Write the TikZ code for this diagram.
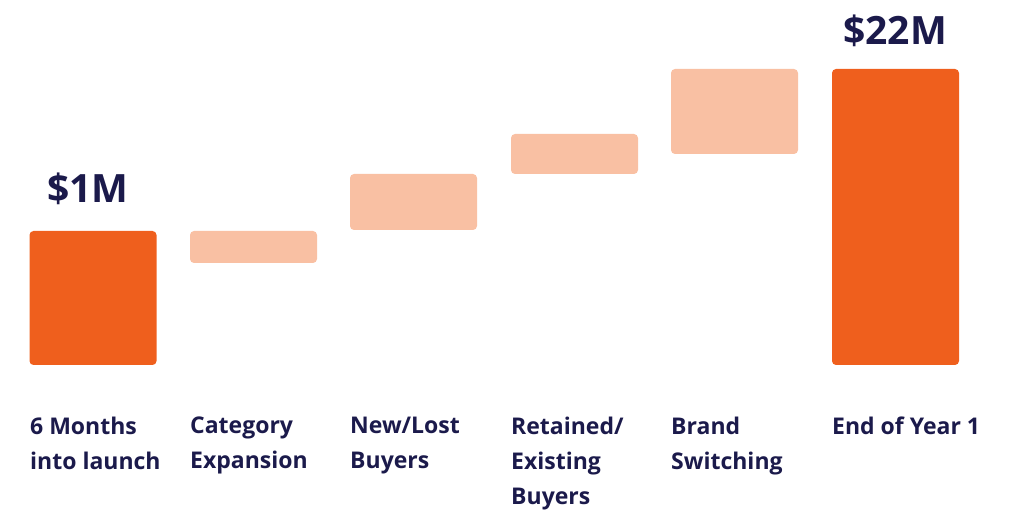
\documentclass[tikz,border=0pt]{standalone}
\usepackage{fontspec}
\setmainfont{Open Sans}
\usetikzlibrary{positioning}
\definecolor{deeporange}{HTML}{EF5F1D}
\definecolor{paleorange}{HTML}{F9C0A3}
\definecolor{navy}{HTML}{1B1A4B}
\tikzset{
  bar/.style={rounded corners=4pt, inner sep=0pt, minimum width=127pt},
  totalbar/.style={bar, fill=deeporange},
  stepbar/.style={bar, fill=paleorange},
  caption/.style={anchor=north west, inner sep=0pt, align=left, text=navy,
    font=\fontsize{23}{35}\selectfont\bfseries},
  amount/.style={anchor=south, inner sep=0pt, text=navy,
    font=\fontsize{39}{39}\selectfont\bfseries}
}
\begin{document}
\begin{tikzpicture}[x=1pt, y=-1pt]
\useasboundingbox (0,0) rectangle (1023,526);
% bars
\node[totalbar, minimum height=134pt] (start) at (93,298) {};
\node[stepbar, minimum height=32pt]  (category) at (253.5,247) {};
\node[stepbar, minimum height=56pt]  (newlost) at (413.5,202) {};
\node[stepbar, minimum height=40pt]  (retained) at (574.5,154) {};
\node[stepbar, minimum height=85pt]  (switching) at (734.5,111.5) {};
\node[totalbar, minimum height=296pt] (final) at (895.5,217) {};
% amounts
\node[amount] (startval) at (88,205) {\$1M};
\node[amount] (finalval) at (895,47) {\$22M};
% captions
\node[caption] (lbl1) at (30,417) {6 Months\\into launch};
\node[caption] (lbl2) at (190,417) {Category\\Expansion};
\node[caption] (lbl3) at (350,417) {New/Lost\\Buyers};
\node[caption] (lbl4) at (511,417) {Retained/\\Existing\\Buyers};
\node[caption] (lbl5) at (671,417) {Brand\\Switching};
\node[caption] (lbl6) at (832,417) {End of Year 1};
\end{tikzpicture}
\end{document}
